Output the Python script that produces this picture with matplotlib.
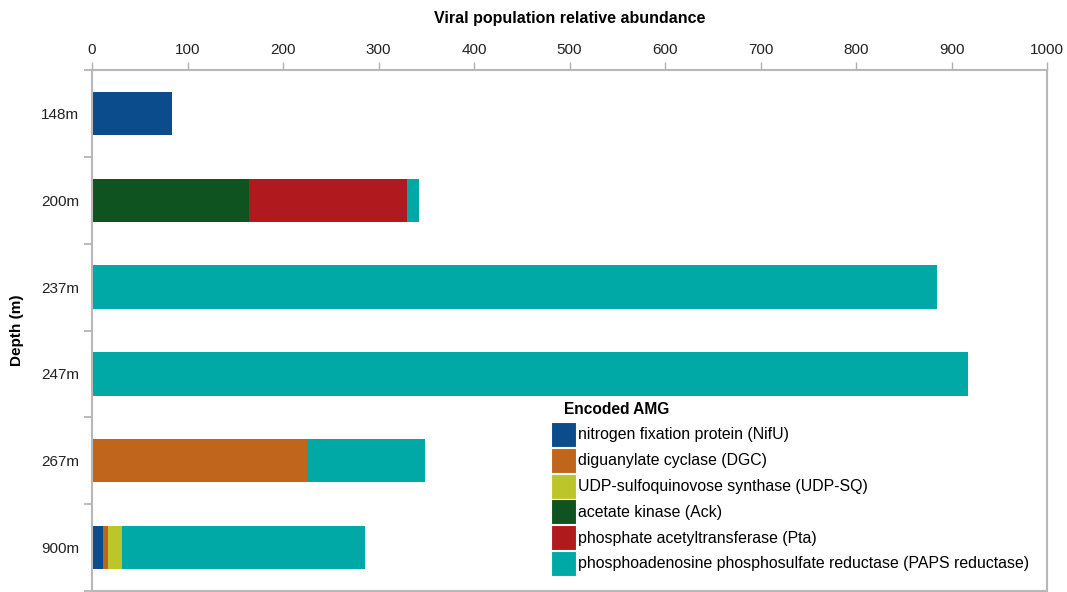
import matplotlib
matplotlib.use("Agg")
import matplotlib.pyplot as plt
from matplotlib.patches import Patch
import numpy as np

plt.rcParams['font.family'] = ['Liberation Sans', 'DejaVu Sans']

depths = ["148m", "200m", "237m", "247m", "267m", "900m"]
series_names = [
    "nitrogen fixation protein (NifU)",
    "diguanylate cyclase (DGC)",
    "UDP-sulfoquinovose synthase (UDP-SQ)",
    "acetate kinase (Ack)",
    "phosphate acetyltransferase (Pta)",
    "phosphoadenosine phosphosulfate reductase (PAPS reductase)",
]
nifu = [84, 0, 0, 0, 0, 11.5]
dgc = [0, 0, 0, 0, 225, 5]
udp_sq = [0, 0, 0, 0, 0, 15]
ack = [0, 164, 0, 0, 0, 0]
pta = [0, 166, 0, 0, 0, 0]
paps = [0, 12, 885, 917, 124, 254]
colors = ["#0A4C8C", "#C0651C", "#BCC62A", "#0F5320", "#B01A1E", "#00A9A6"]
x_ticks = [0, 100, 200, 300, 400, 500, 600, 700, 800, 900, 1000]

fig = plt.figure(figsize=(10.67, 5.92), dpi=100)
ax = fig.add_axes([92 / 1067, 1 - 591 / 592, (1047 - 92) / 1067, (591 - 70) / 592])

y = np.arange(len(depths))
left = np.zeros(len(depths))
handles = []
for name, vals, c in zip(series_names, [nifu, dgc, udp_sq, ack, pta, paps], colors):
    vals = np.array(vals, dtype=float)
    ax.barh(y, vals, left=left, height=0.5, color=c, edgecolor='none')
    left += vals
    handles.append(Patch(facecolor=c, edgecolor='white', linewidth=0.8, label=name))

ax.set_xlim(0, 1000)
ax.set_ylim(len(depths) - 0.5, -0.5)
ax.xaxis.tick_top()
ax.xaxis.set_label_position('top')
ax.set_xticks(x_ticks)
ax.set_xticklabels([str(v) for v in x_ticks], fontsize=11, color='#222222')
ax.set_yticks(np.arange(len(depths) + 1) - 0.5)
ax.set_yticklabels([])
ax.set_yticks(y, minor=True)
ax.set_yticklabels(depths, minor=True, fontsize=11, color='#222222')
ax.tick_params(axis='y', which='minor', length=0, pad=9)
ax.tick_params(axis='y', which='major', length=6, width=1.2, color='#B0B0B0', direction='out')
ax.tick_params(axis='x', length=6, width=1, color='#B0B0B0', direction='out', pad=3)
for s in ax.spines.values():
    s.set_color('#B8B8B8')
    s.set_linewidth(1.5)

ax.set_xlabel("Viral population relative abundance", fontsize=11.5, fontweight='bold', labelpad=15)
fig.text(17 / 1067, 1 - 330 / 592, "Depth (m)", rotation=90, fontsize=11, fontweight='bold',
         ha='center', va='center')

fs = 11.4
leg = ax.legend(handles=handles, loc='upper left',
                bbox_to_anchor=(551 / 1067, 1 - 422 / 592), bbox_transform=fig.transFigure,
                frameon=False, fontsize=fs, handlelength=1.6, handleheight=2.05,
                labelspacing=0.05, handletextpad=0.1, borderpad=0.0, borderaxespad=0)
fig.text(564 / 1067, 1 - 410 / 592, "Encoded AMG", fontsize=11.2, fontweight='bold',
         ha='left', va='center')

fig.savefig("out.png", dpi=100)
